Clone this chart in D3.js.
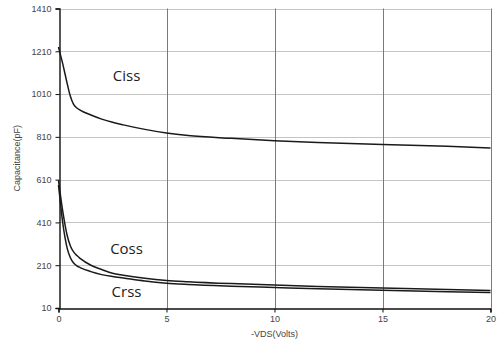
<!DOCTYPE html>
<html>
<head>
<meta charset="utf-8">
<script src="https://cdn.jsdelivr.net/npm/d3@7/dist/d3.min.js"></script>
<style>
  html, body { margin: 0; padding: 0; background: #fff; }
  svg { display: block; }
  .tick text { font-family: "Liberation Sans", Arial, sans-serif; font-size: 9px; fill: #444; }
</style>
</head>
<body>
<svg id="chart" width="504" height="344"></svg>
<script>
// Drain-source voltage (V) sample points
const vds = [0, 0.1, 0.2, 0.3, 0.4, 0.55, 0.7, 0.85, 1, 1.5, 2, 2.5, 3, 4, 5, 6, 8, 10, 12, 15, 18, 20];

// Capacitance (pF) per series
const ciss = [1230, 1190, 1150, 1105, 1060, 1000, 962, 945, 935, 912, 893, 878, 866, 845, 828, 816, 803, 792, 784, 774, 766, 758];
const coss = [607, 530, 460, 400, 350, 300, 272, 255, 242, 210, 190, 172, 163, 149, 139, 133, 124, 117, 111, 103, 97, 92];
const crss = [585, 490, 405, 340, 290, 245, 220, 207, 199, 180, 166, 157, 150, 136, 126, 120, 112, 106, 100, 93, 86, 82];

const seriesNames = ["Ciss", "Coss", "Crss"];
const seriesValues = [ciss, coss, crss];

const xTicks = [0, 5, 10, 15, 20];
const yTicks = [10, 210, 410, 610, 810, 1010, 1210, 1410];

const xLabel = "-VDS(Volts)";
const yLabel = "Capacitance(pF)";

const svg = d3.select("#chart");
const margin = { left: 58.5, right: 13.5, top: 8.5, bottom: 36 };
const W = 504, H = 344;

const x = d3.scaleLinear().domain([0, 20]).range([margin.left, W - margin.right]);
const y = d3.scaleLinear().domain([10, 1410]).range([H - margin.bottom, margin.top]);

// Horizontal grid (light)
svg.append("g")
  .selectAll("line")
  .data(yTicks.slice(1))
  .join("line")
  .attr("x1", x(0)).attr("x2", x(20))
  .attr("y1", d => Math.round(y(d)) + 0.5).attr("y2", d => Math.round(y(d)) + 0.5)
  .attr("stroke", "#c4c4c4").attr("stroke-width", 1.2);

// Vertical grid (darker)
svg.append("g")
  .selectAll("line")
  .data(xTicks.slice(1))
  .join("line")
  .attr("x1", d => Math.round(x(d)) + 0.5).attr("x2", d => Math.round(x(d)) + 0.5)
  .attr("y1", y(1410)).attr("y2", y(10))
  .attr("stroke", "#7a7a7a").attr("stroke-width", 1);

// Axes
const xAxis = svg.append("g")
  .attr("transform", `translate(0,${Math.round(y(10)) + 0.5})`)
  .call(d3.axisBottom(x).tickValues(xTicks).tickFormat(d3.format("d")).tickSize(4).tickPadding(3));
xAxis.select(".domain").attr("stroke", "#111").attr("stroke-width", 1.4);
xAxis.selectAll(".tick line").attr("stroke", "#111");

const yAxis = svg.append("g")
  .attr("transform", `translate(${Math.round(x(0)) + 0.5},0)`)
  .call(d3.axisLeft(y).tickValues(yTicks).tickFormat(d3.format("d")).tickSize(4).tickPadding(4));
yAxis.select(".domain").attr("stroke", "#111").attr("stroke-width", 1.4);
yAxis.selectAll(".tick line").attr("stroke", "#111");

// Axis titles
svg.append("text")
  .attr("x", x(10)).attr("y", 337)
  .attr("text-anchor", "middle")
  .attr("font-family", "Liberation Sans, Arial, sans-serif")
  .attr("font-size", 9).attr("fill", "#444")
  .text(xLabel);

svg.append("text")
  .attr("transform", `translate(20,${y(710)}) rotate(-90)`)
  .attr("text-anchor", "middle")
  .attr("font-family", "Liberation Sans, Arial, sans-serif")
  .attr("font-size", 9).attr("fill", "#444")
  .text(yLabel);

// Curves
const line = d3.line()
  .x((d, i) => x(vds[i]))
  .y(d => y(d))
  .curve(d3.curveMonotoneX);

svg.append("g")
  .selectAll("path")
  .data(seriesValues)
  .join("path")
  .attr("d", d => line(d))
  .attr("fill", "none")
  .attr("stroke", "#1a1a1a")
  .attr("stroke-width", 1.5);

// Series labels
const labelPos = [
  { name: seriesNames[0], v: 3.15, c: 1088 },
  { name: seriesNames[1], v: 3.15, c: 281 },
  { name: seriesNames[2], v: 3.15, c: 79 }
];
svg.append("g")
  .selectAll("text")
  .data(labelPos)
  .join("text")
  .attr("x", d => x(d.v)).attr("y", d => y(d.c))
  .attr("text-anchor", "middle")
  .attr("dominant-baseline", "middle")
  .attr("font-family", "'Open Sans', 'Liberation Sans', sans-serif")
  .attr("font-size", 15).attr("fill", "#222")
  .text(d => d.name);
</script>
</body>
</html>
